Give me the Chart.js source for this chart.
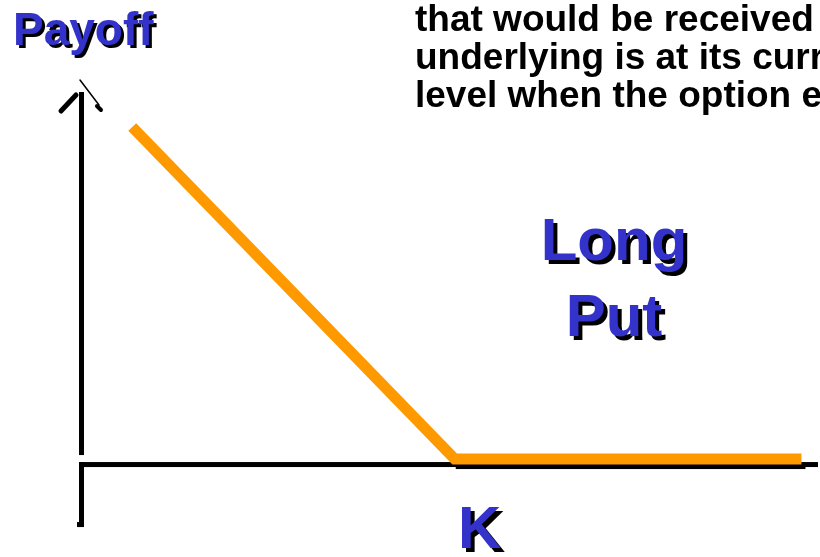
<!DOCTYPE html>
<html>
<head>
<meta charset="utf-8">
<script src="https://cdn.jsdelivr.net/npm/chart.js@4.4.1/dist/chart.umd.min.js"></script>
<style>
  html, body { margin: 0; padding: 0; background: #fff; }
</style>
</head>
<body>
<canvas id="payoffChart" width="820" height="557"></canvas>
<script>
// long put payoff at expiry: max(K - S, 0)
var strike = 40;
var prices = [0, 40, 83];
var payoffs = [40, 0, 0];
var noteLines = ['that would be received', 'underlying is at its current', 'level when the option expires'];

// visible window of the two axes (in price / payoff units)
var xMin = -16.4, xMax = 85.3;
var yMin = -11.8, yMax = 55.3;
var axisX = -6.4; // where the payoff axis stands

var blue = '#3333CC';
var orange = '#FF9900';

function shadowText(c, txt, x, y, off) {
  c.fillStyle = '#000';
  c.fillText(txt, x + off, y + off);
  c.fillStyle = blue;
  c.fillText(txt, x, y);
}

var axesPlugin = {
  id: 'axes',
  beforeDatasetsDraw: function (chart) {
    var c = chart.ctx;
    var xs = chart.scales.x, ys = chart.scales.y;
    var ax = Math.round(xs.getPixelForValue(axisX));
    var zero = ys.getPixelForValue(0);
    c.save();
    c.fillStyle = '#000';
    // payoff axis (upper part)
    c.fillRect(ax - 2, 92, 5, zero - 96);
    // price axis
    c.fillRect(ax - 2, zero + 3, chart.width - ax, 5);
    // lower stub under the corner
    c.fillRect(ax - 2, zero + 3, 5, 65);
    c.fillRect(ax - 4, zero + 63, 3, 5);
    // shadow of the flat part
    var kx = xs.getPixelForValue(strike);
    var ex = xs.getPixelForValue(prices[prices.length - 1]);
    c.fillRect(kx + 1, zero + 5, ex - kx + 3, 5);
    // arrow head
    c.lineCap = 'round';
    c.strokeStyle = '#000';
    c.lineWidth = 5;
    c.beginPath();
    c.moveTo(ax - 5, 95);
    c.lineTo(ax - 20, 111);
    c.stroke();
    c.lineWidth = 1.5;
    c.beginPath();
    c.moveTo(ax - 1, 80);
    c.lineTo(ax + 18, 105);
    c.stroke();
    c.lineWidth = 4;
    c.beginPath();
    c.moveTo(ax + 16, 106);
    c.lineTo(ax + 20, 110);
    c.stroke();
    c.restore();
  }
};

var labelsPlugin = {
  id: 'labels',
  afterDraw: function (chart) {
    var c = chart.ctx;
    c.save();
    c.textBaseline = 'alphabetic';
    c.textAlign = 'left';
    c.font = 'bold 46px "Liberation Sans", Arial, sans-serif';
    shadowText(c, 'Payoff', 13, 45, 3);

    c.textAlign = 'center';
    c.font = 'bold 60px "Liberation Sans", Arial, sans-serif';
    shadowText(c, 'Long', 614, 260, 4);
    shadowText(c, 'Put', 614, 336, 4);
    c.textAlign = 'left';
    shadowText(c, 'K', 458, 548, 4);

    c.fillStyle = '#000';
    c.font = 'bold 37px "Liberation Sans", Arial, sans-serif';
    for (var i = 0; i < noteLines.length; i++) {
      c.fillText(noteLines[i], 415, 31 + i * 38);
    }
    c.restore();
  }
};

var ctx = document.getElementById('payoffChart').getContext('2d');
new Chart(ctx, {
  type: 'line',
  data: {
    datasets: [{
      data: prices.map(function (p, i) { return { x: p, y: payoffs[i] }; }),
      borderColor: orange,
      borderWidth: 11,
      borderCapStyle: 'butt',
      borderJoinStyle: 'miter',
      pointRadius: 0,
      tension: 0,
      fill: false
    }]
  },
  options: {
    responsive: false,
    animation: false,
    devicePixelRatio: 1,
    layout: { padding: 0 },
    scales: {
      x: { type: 'linear', min: xMin, max: xMax, display: false },
      y: { type: 'linear', min: yMin, max: yMax, display: false }
    },
    plugins: {
      legend: { display: false },
      tooltip: { enabled: false }
    }
  },
  plugins: [axesPlugin, labelsPlugin]
});
</script>
</body>
</html>
